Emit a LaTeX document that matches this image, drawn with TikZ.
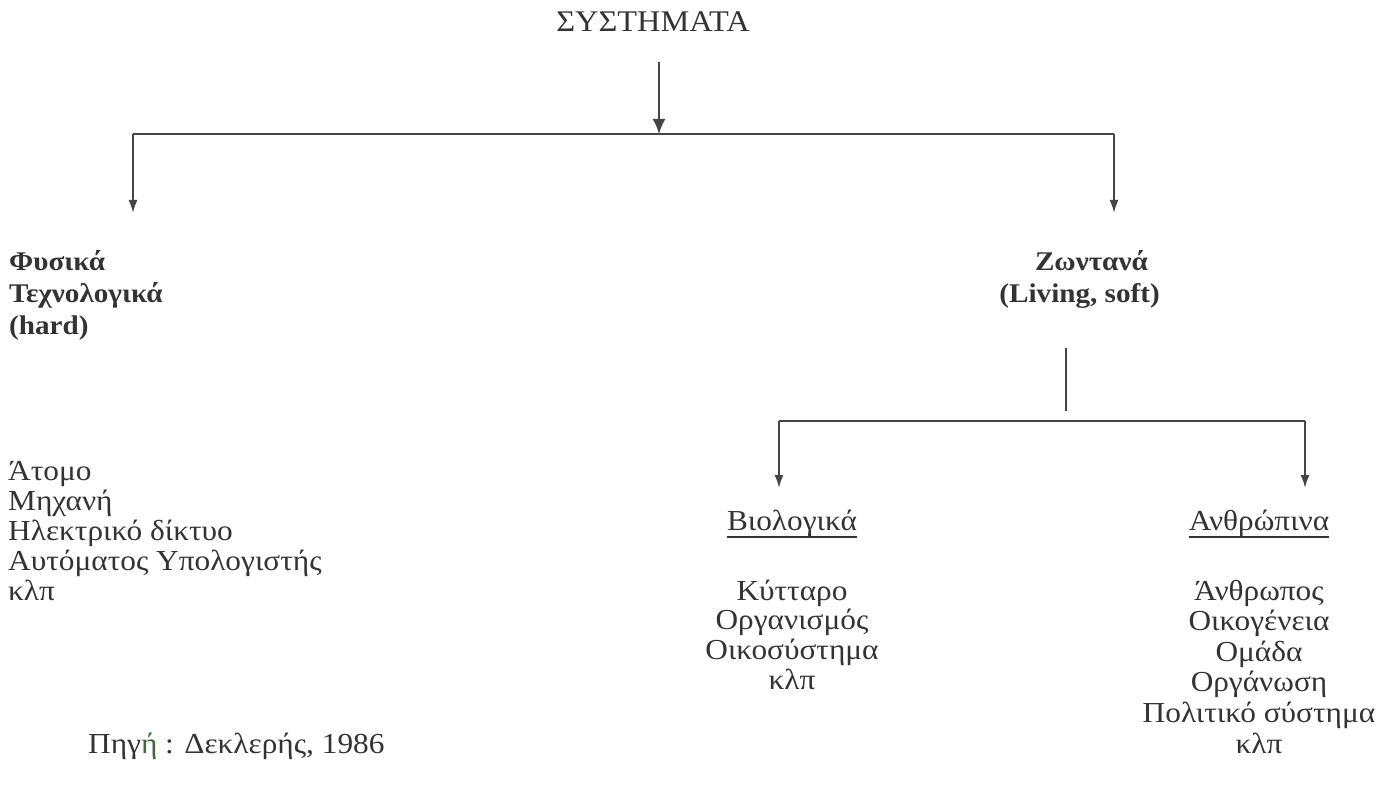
\documentclass[tikz,border=0pt]{standalone}
\usepackage{fontspec}
\setmainfont{Liberation Serif}[FakeStretch=1.08]
\usetikzlibrary{arrows.meta,calc}
\definecolor{ink}{HTML}{333333}
\definecolor{wire}{HTML}{454545}
\definecolor{srcgreen}{HTML}{3D6B3A}
\begin{document}
\begin{tikzpicture}[x=1pt,y=-1pt,
  txt/.style={inner sep=0pt,text=ink,font=\fontsize{29}{30}\selectfont},
  bold/.style={txt,font=\fontsize{27}{30}\selectfont\bfseries},
  wireline/.style={draw=wire,line width=2pt},
  uline/.style={draw=ink,line width=1.4pt},
  arr/.style={wireline,-{Latex[length=13pt,width=9pt]}},
  bigarr/.style={wireline,-{Latex[length=15pt,width=13pt]}}]
\useasboundingbox (0,0) rectangle (1391,794);

% title
\node[txt,font=\fontsize{30}{34}\selectfont,anchor=base east] (sys) at (750,32) {ΣΥΣΤΗΜΑΤΑ};

% main split
\coordinate (top) at (659,62);
\coordinate (hub) at (659,134);
\coordinate (bl) at (133,134);
\coordinate (br) at (1114,134);
\coordinate (blend) at (133,213);
\coordinate (brend) at (1114,213);
\draw[bigarr] (top) -- (hub);
\draw[wireline] (bl) -- (br);
\draw[arr] (bl) -- (blend);
\draw[arr] (br) -- (brend);

% hard systems
\node[bold,anchor=base west] (hard1) at (9,270) {Φυσικά};
\node[bold,anchor=base west] (hard2) at (9,302) {Τεχνολογικά};
\node[bold,anchor=base west] (hard3) at (9,334) {(hard)};

\foreach \t [count=\i] in {Άτομο, Μηχανή, Ηλεκτρικό δίκτυο, Αυτόματος Υπολογιστής, κλπ}
  \node[txt,anchor=base west] (hw\i) at (8,{480+30*(\i-1)}) {\t};

\node[txt,anchor=base west] (src) at (88,753) {Πηγ{\color{srcgreen}ή} : Δεκλερής, 1986};

% living systems
\node[bold,anchor=base east] (soft1) at (1148,270) {Ζωντανά};
\node[bold,anchor=base east] (soft2) at (1160,302) {(Living, soft)};

\coordinate (ltop) at (1066,348);
\coordinate (lbot) at (1066,411);
\coordinate (ll) at (779,421);
\coordinate (lr) at (1305,421);
\coordinate (llend) at (779,488);
\coordinate (lrend) at (1305,488);
\draw[wireline] (ltop) -- (lbot);
\draw[wireline] (ll) -- (lr);
\draw[arr] (ll) -- (llend);
\draw[arr] (lr) -- (lrend);

\node[txt,anchor=base] (bio) at (792,530) {Βιολογικά};
\draw[uline] ($(bio.base west)+(0,7)$) -- ($(bio.base east)+(0,7)$);
\foreach \t [count=\i] in {Κύτταρο, Οργανισμός, Οικοσύστημα, κλπ}
  \node[txt,anchor=base] (bio\i) at (792,{600+29.8*(\i-1)}) {\t};

\node[txt,anchor=base] (hum) at (1259,530) {Ανθρώπινα};
\draw[uline] ($(hum.base west)+(0,7)$) -- ($(hum.base east)+(0,7)$);
\foreach \t [count=\i] in {Άνθρωπος, Οικογένεια, Ομάδα, Οργάνωση, Πολιτικό σύστημα, κλπ}
  \node[txt,anchor=base] (hum\i) at (1259,{600+30.6*(\i-1)}) {\t};
\end{tikzpicture}
\end{document}
